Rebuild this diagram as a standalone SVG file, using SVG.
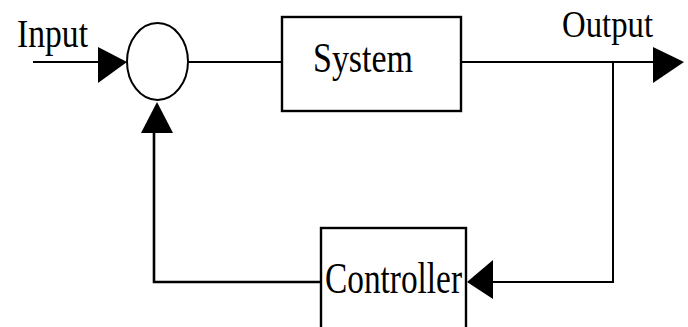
<svg xmlns="http://www.w3.org/2000/svg" width="688" height="327" viewBox="0 0 688 327">
<style>
.ln{fill:none;stroke:#000;stroke-width:2}
.fb{fill:none;stroke:#000;stroke-width:2.6}
.box{fill:#fff;stroke:#000;stroke-width:2.4}
.ah{fill:#000;stroke:none}
text{font-family:"Liberation Serif","Times New Roman",serif;fill:#000}
</style>
<rect width="688" height="327" fill="#fff"/>
<g id="connectors">
<line class="ln" x1="33" y1="62" x2="100" y2="62"/>
<polygon class="ah" points="98,47 127,62 98,83"/>
<line class="ln" x1="188" y1="62" x2="282" y2="62"/>
<line class="ln" x1="461" y1="62" x2="655" y2="62"/>
<polygon class="ah" points="653,47 684,62 653,83"/>
<polyline class="ln" points="613,62 613,282 492,282"/>
<polygon class="ah" points="493,260 467,282 493,299"/>
<polyline class="fb" points="320,282 154,282 154,131"/>
<polygon class="ah" points="157,102 173,133 141,133"/>
</g>
<g id="sum">
<ellipse cx="157.5" cy="61.5" rx="30.5" ry="38.5" fill="#fff" stroke="#000" stroke-width="2"/>
</g>
<g id="system">
<rect class="box" x="282" y="17" width="179" height="94"/>
<text x="313" y="72" font-size="43" textLength="100" lengthAdjust="spacingAndGlyphs">System</text>
</g>
<g id="controller">
<rect class="box" x="321" y="228" width="145" height="110"/>
<text x="325" y="293" font-size="44" textLength="137" lengthAdjust="spacingAndGlyphs">Controller</text>
</g>
<g id="input-label">
<text x="17" y="47" font-size="40" textLength="71" lengthAdjust="spacingAndGlyphs">Input</text>
</g>
<g id="output-label">
<text x="562" y="37" font-size="37" textLength="91" lengthAdjust="spacingAndGlyphs">Output</text>
</g>
</svg>
